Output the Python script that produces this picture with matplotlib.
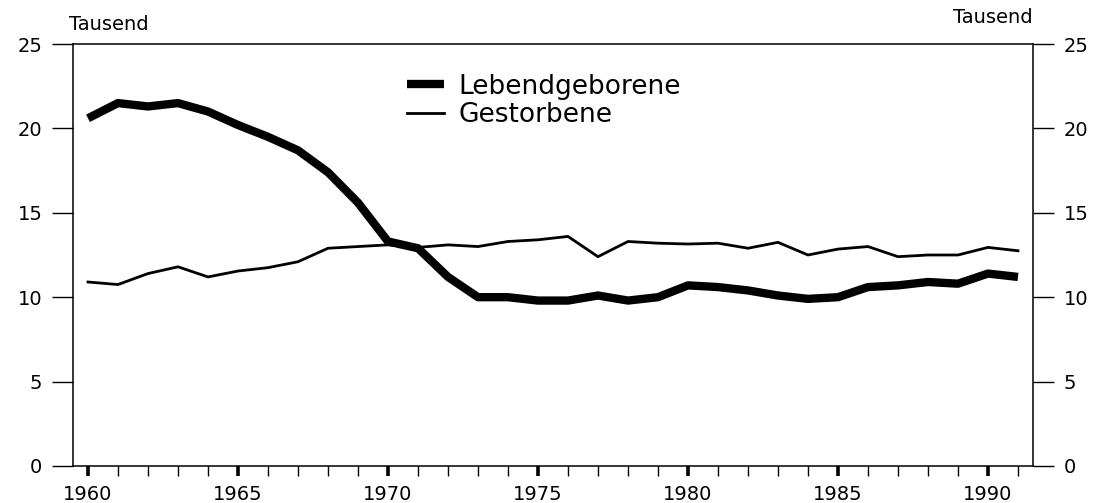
import numpy as np
import matplotlib.pyplot as plt
from matplotlib.ticker import MultipleLocator

# Daten (Tausend)
jahre = list(range(1960, 1992))
lebendgeborene = [20.6, 21.5, 21.3, 21.5, 21.0, 20.2, 19.5, 18.7, 17.4, 15.6,
                  13.3, 12.9, 11.2, 10.0, 10.0, 9.8, 9.8, 10.1, 9.8, 10.0,
                  10.7, 10.6, 10.4, 10.1, 9.9, 10.0, 10.6, 10.7, 10.9, 10.8,
                  11.4, 11.2]
gestorbene = [10.9, 10.75, 11.4, 11.8, 11.2, 11.55, 11.75, 12.1, 12.9, 13.0,
              13.1, 12.95, 13.1, 13.0, 13.3, 13.4, 13.6, 12.4, 13.3, 13.2,
              13.15, 13.2, 12.9, 13.25, 12.5, 12.85, 13.0, 12.4, 12.5, 12.5,
              12.95, 12.75]
x_labels = [1960, 1965, 1970, 1975, 1980, 1985, 1990]
y_ticks = [0, 5, 10, 15, 20, 25]

plt.rcParams['font.family'] = ['DejaVu Sans']

fig = plt.figure(figsize=(10.96, 5.03), dpi=100)
ax = fig.add_axes([0.0666, 0.0736, 0.8759, 0.8389])

ax.plot(jahre, lebendgeborene, color='black', lw=6.0,
        solid_joinstyle='round', solid_capstyle='butt', label='Lebendgeborene')
ax.plot(jahre, gestorbene, color='black', lw=2.0,
        solid_joinstyle='round', label='Gestorbene')

ax.set_xlim(1959.5, 1991.5)
ax.set_ylim(0, 25)

for s in ax.spines.values():
    s.set_linewidth(1.1)

# x-Achse: Jahresstriche, alle 5 Jahre dicker
ax.set_xticks(x_labels)
ax.set_xticklabels([str(j) for j in x_labels])
ax.xaxis.set_minor_locator(MultipleLocator(1))
ax.tick_params(axis='x', which='major', direction='out', length=7, width=2.6,
               pad=7, labelsize=14)
ax.tick_params(axis='x', which='minor', direction='out', length=7, width=1.0)

# y-Achsen links und rechts
ax.set_yticks(y_ticks)
ax.tick_params(axis='y', which='major', direction='out', length=15, width=1.0,
               pad=7, labelsize=14, left=True, right=True,
               labelleft=True, labelright=True)

ax.text(-0.004, 1.033, 'Tausend', transform=ax.transAxes, ha='left',
        va='baseline', fontsize=14)
ax.text(1.0, 1.05, 'Tausend', transform=ax.transAxes, ha='right',
        va='baseline', fontsize=14)

leg = ax.legend(loc='upper left', bbox_to_anchor=(0.348, 0.93), frameon=False,
                fontsize=19, handlelength=1.4, handletextpad=0.55,
                labelspacing=0.1, borderpad=0, borderaxespad=0)

fig.savefig('out.png', dpi=100)
